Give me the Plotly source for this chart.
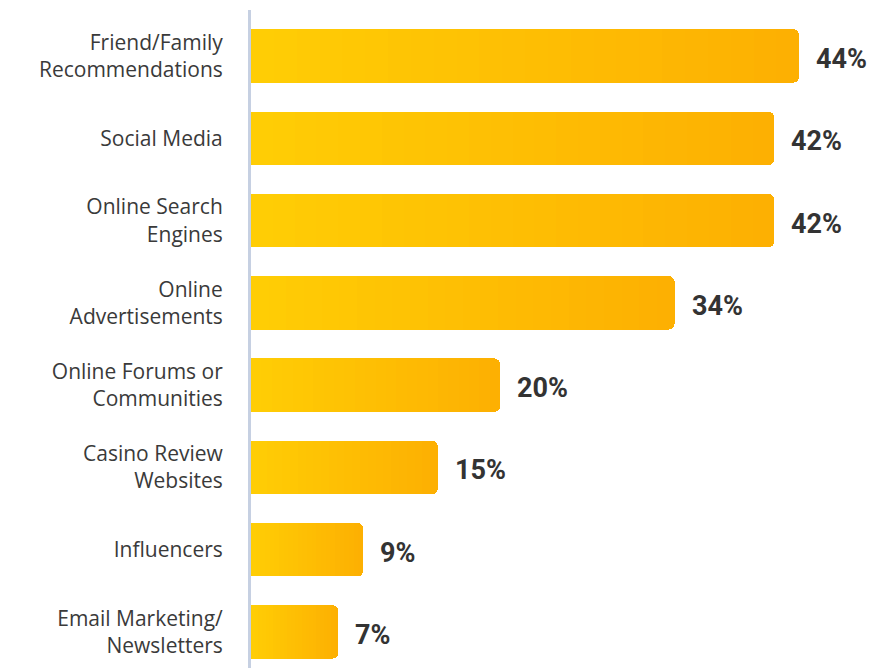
import plotly.graph_objects as go

# Share of respondents by discovery channel
channels = [
    "Friend/Family<br>Recommendations",
    "Social Media",
    "Online Search<br>Engines",
    "Online<br>Advertisements",
    "Online Forums or<br>Communities",
    "Casino Review<br>Websites",
    "Influencers",
    "Email Marketing/<br>Newsletters",
]
shares = [44, 42, 42, 34, 20, 15, 9, 7]
share_labels = ["44%", "42%", "42%", "34%", "20%", "15%", "9%", "7%"]

# Horizontal gradient: each bar is split into thin stacked slices
N_SLICES = 24
START_RGB = (255, 205, 5)
END_RGB = (253, 176, 2)


def blend(t):
    r, g, b = (round(a + (c - a) * t) for a, c in zip(START_RGB, END_RGB))
    return f"rgb({r},{g},{b})"


fig = go.Figure()
for i in range(N_SLICES):
    fig.add_trace(go.Bar(
        y=channels,
        x=[v / N_SLICES for v in shares],
        orientation="h",
        marker=dict(color=blend(i / (N_SLICES - 1)), line=dict(width=0)),
        hoverinfo="skip",
        showlegend=False,
    ))

for cat, v, lab in zip(channels, shares, share_labels):
    fig.add_annotation(
        x=v, y=cat, text=lab, showarrow=False,
        xanchor="left", yanchor="middle", xshift=15, yshift=-3,
        font=dict(family="Roboto", size=27, color="#333333", weight="bold"),
    )

fig.update_layout(
    width=874, height=668,
    margin=dict(l=251, r=0, t=10, b=0),
    paper_bgcolor="white", plot_bgcolor="white",
    barmode="stack", bargap=0.35, barcornerradius=6,
    xaxis=dict(range=[0, 50], visible=False, fixedrange=True),
    yaxis=dict(
        range=[7.4375, -0.559],
        showgrid=False, zeroline=False,
        showline=True, linecolor="#c6d0e2", linewidth=3,
        ticks="", ticklabelstandoff=21,
        tickfont=dict(family="Open Sans", size=21, color="#3a3a3a"),
    ),
)

fig.write_html("out.html")
